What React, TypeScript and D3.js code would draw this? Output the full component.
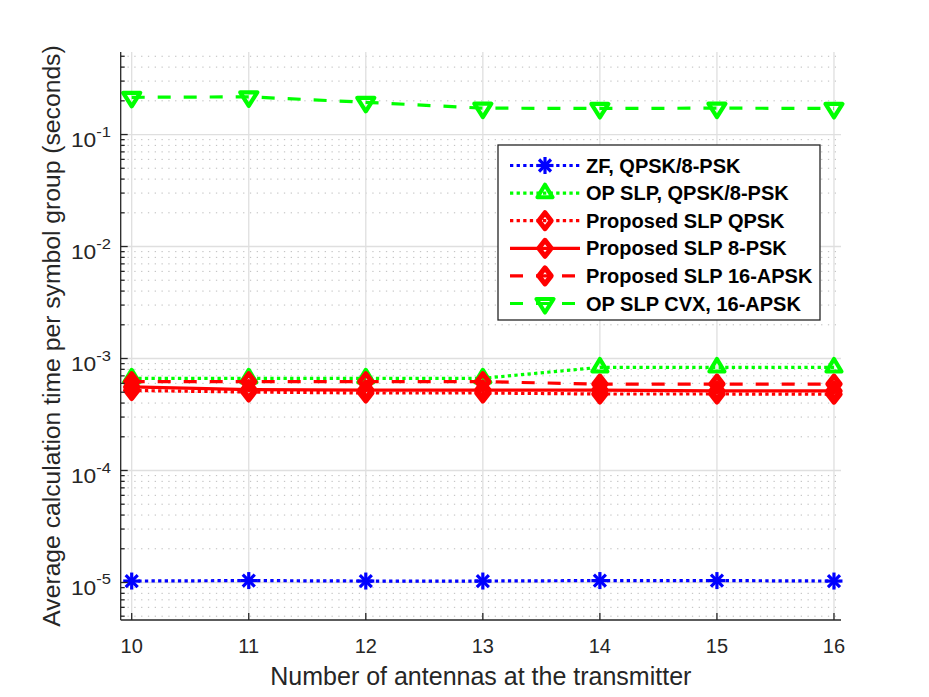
import React from 'react';
import * as d3 from 'd3';

// Data
const antennas = [10, 11, 12, 13, 14, 15, 16];
const zfTime = [1.03e-5, 1.04e-5, 1.03e-5, 1.03e-5, 1.04e-5, 1.04e-5, 1.03e-5];
const opSlpTime = [6.66e-4, 6.66e-4, 6.66e-4, 6.66e-4, 8.34e-4, 8.34e-4, 8.34e-4];
const propQpskTime = [5.18e-4, 5.02e-4, 4.92e-4, 4.92e-4, 4.82e-4, 4.82e-4, 4.8e-4];
const prop8pskTime = [5.57e-4, 5.28e-4, 5.23e-4, 5.23e-4, 5.23e-4, 5.13e-4, 5.13e-4];
const prop16apskTime = [6.21e-4, 6.21e-4, 6.21e-4, 6.21e-4, 5.91e-4, 5.91e-4, 5.91e-4];
const cvxTime = [0.215, 0.217, 0.194, 0.172, 0.171, 0.172, 0.171];

const seriesNames = [
  'ZF, QPSK/8-PSK',
  'OP SLP, QPSK/8-PSK',
  'Proposed SLP QPSK',
  'Proposed SLP 8-PSK',
  'Proposed SLP 16-APSK',
  'OP SLP CVX, 16-APSK',
];
const yTickExponents = [-5, -4, -3, -2, -1];

const W = 929;
const H = 697;
const left = 120.7;
const right = 841;
const top = 52;
const bottom = 620;
const FONT = '"Liberation Sans", Arial, Helvetica, sans-serif';
const AX = '#262626';

const x = d3.scaleLinear().domain([9.906, 16.06]).range([left, right]);
const y = d3.scaleLog().domain([Math.pow(10, -5.335), Math.pow(10, -0.263)]).range([bottom, top]);

type MarkerKind = 'star' | 'up' | 'diamond' | 'down';

const DOT = '3.3,3.3';
const DASH = '13,13';

const series = [
  { name: seriesNames[0], values: zfTime, color: '#0000ff', dash: DOT, marker: 'star' as MarkerKind },
  { name: seriesNames[1], values: opSlpTime, color: '#00ff00', dash: DOT, marker: 'up' as MarkerKind },
  { name: seriesNames[2], values: propQpskTime, color: '#ff0000', dash: DOT, marker: 'diamond' as MarkerKind },
  { name: seriesNames[3], values: prop8pskTime, color: '#ff0000', dash: 'none', marker: 'diamond' as MarkerKind },
  { name: seriesNames[4], values: prop16apskTime, color: '#ff0000', dash: DASH, marker: 'diamond' as MarkerKind },
  { name: seriesNames[5], values: cvxTime, color: '#00ff00', dash: DASH, marker: 'down' as MarkerKind },
];

function Marker({ kind, cx, cy, color }: { kind: MarkerKind; cx: number; cy: number; color: string }) {
  if (kind === 'star') {
    const r = 8.5;
    const d = 6;
    return (
      <g stroke={color} strokeWidth={3.2} strokeLinecap="butt">
        <line x1={cx - r} y1={cy} x2={cx + r} y2={cy} />
        <line x1={cx} y1={cy - r} x2={cx} y2={cy + r} />
        <line x1={cx - d} y1={cy - d} x2={cx + d} y2={cy + d} />
        <line x1={cx - d} y1={cy + d} x2={cx + d} y2={cy - d} />
      </g>
    );
  }
  if (kind === 'up') {
    const w = 7.5, h = 12.5;
    const p = `M${cx},${cy - (2 * h) / 3}L${cx + w},${cy + h / 3}L${cx - w},${cy + h / 3}Z`;
    return <path d={p} fill="none" stroke={color} strokeWidth={4.2} strokeLinejoin="round" />;
  }
  if (kind === 'down') {
    const w = 8.5, h = 13.5;
    const p = `M${cx},${cy + (2 * h) / 3}L${cx + w},${cy - h / 3}L${cx - w},${cy - h / 3}Z`;
    return <path d={p} fill="none" stroke={color} strokeWidth={4.2} strokeLinejoin="round" />;
  }
  const hw = 6.2, hh = 8;
  const p = `M${cx},${cy - hh}L${cx + hw},${cy}L${cx},${cy + hh}L${cx - hw},${cy}Z`;
  return <path d={p} fill="none" stroke={color} strokeWidth={5} strokeLinejoin="round" />;
}

export default function App() {
  const line = d3
    .line<number>()
    .x((_, i) => x(antennas[i]))
    .y((d) => y(d));

  // minor grid values for the log axis
  const minor: number[] = [];
  for (let e = -6; e <= 0; e++) {
    for (let k = 2; k <= 9; k++) {
      const v = k * Math.pow(10, e);
      if (y(v) >= top && y(v) <= bottom) minor.push(v);
    }
  }

  const legX = 498, legY = 145, legW = 322, legH = 175;
  const rowY0 = 165.5, rowStep = 27.6;

  return (
    <svg width={W} height={H} style={{ position: 'absolute', left: 0, top: 0, background: '#fff' }} fontFamily={FONT}>
      <rect x={0} y={0} width={W} height={H} fill="#fff" />

      {/* grid */}
      <g>
        {minor.map((v) => (
          <line key={'mg' + v} x1={left} x2={right} y1={y(v)} y2={y(v)} stroke="#bcbcbc" strokeWidth={1} strokeDasharray="1.3,5.5" />
        ))}
        {yTickExponents.map((e) => (
          <line key={'yg' + e} x1={left} x2={right} y1={y(Math.pow(10, e))} y2={y(Math.pow(10, e))} stroke="#dfdfdf" strokeWidth={1.3} />
        ))}
        {antennas.map((a) => (
          <line key={'xg' + a} x1={x(a)} x2={x(a)} y1={top} y2={bottom} stroke="#dfdfdf" strokeWidth={1.3} />
        ))}
      </g>

      {/* data */}
      {series.map((s) => (
        <g key={s.name}>
          <path d={line(s.values) ?? ''} fill="none" stroke={s.color} strokeWidth={3.2} strokeDasharray={s.dash} />
          {s.values.map((v, i) => (
            <Marker key={i} kind={s.marker} cx={x(antennas[i])} cy={y(v)} color={s.color} />
          ))}
        </g>
      ))}

      {/* axes */}
      <g stroke={AX} strokeWidth={1.3}>
        <line x1={left} x2={left} y1={top} y2={bottom} />
        <line x1={left} x2={right} y1={bottom} y2={bottom} />
        {antennas.map((a) => (
          <line key={'xt' + a} x1={x(a)} x2={x(a)} y1={bottom} y2={bottom - 7} />
        ))}
        {yTickExponents.map((e) => (
          <line key={'yt' + e} x1={left} x2={left + 7} y1={y(Math.pow(10, e))} y2={y(Math.pow(10, e))} />
        ))}
        {minor.map((v) => (
          <line key={'ymt' + v} x1={left} x2={left + 4} y1={y(v)} y2={y(v)} />
        ))}
      </g>

      {/* tick labels */}
      <g fill={AX} fontSize={20}>
        {antennas.map((a) => (
          <text key={'xl' + a} x={x(a)} y={653} textAnchor="middle">
            {a}
          </text>
        ))}
        {yTickExponents.map((e) => (
          <text
            key={'yl' + e}
            transform={`translate(111,${y(Math.pow(10, e)) + 12.4}) scale(1.14,1)`}
            textAnchor="end"
          >
            10
            <tspan fontSize={14.5} dy={-10.4}>
              {'-' + Math.abs(e)}
            </tspan>
          </text>
        ))}
      </g>

      {/* axis labels */}
      <text x={(left + right) / 2} y={685} textAnchor="middle" fontSize={25} fill={AX}>
        Number of antennas at the transmitter
      </text>
      <text
        transform={`translate(60,${(top + bottom) / 2}) rotate(-90)`}
        textAnchor="middle"
        fontSize={24.7}
        fill={AX}
      >
        Average calculation time per symbol group (seconds)
      </text>

      {/* legend */}
      <g>
        <rect x={legX} y={legY} width={legW} height={legH} fill="#fff" stroke={AX} strokeWidth={1.3} />
        {series.map((s, i) => {
          const ry = rowY0 + i * rowStep;
          return (
            <g key={'lg' + s.name}>
              <line x1={510} x2={580} y1={ry} y2={ry} stroke={s.color} strokeWidth={3.2} strokeDasharray={s.dash} />
              <Marker kind={s.marker} cx={545} cy={ry} color={s.color} />
              <text x={586} y={ry + 7} fontSize={20} fontWeight="bold" fill="#000">
                {s.name}
              </text>
            </g>
          );
        })}
      </g>
    </svg>
  );
}
